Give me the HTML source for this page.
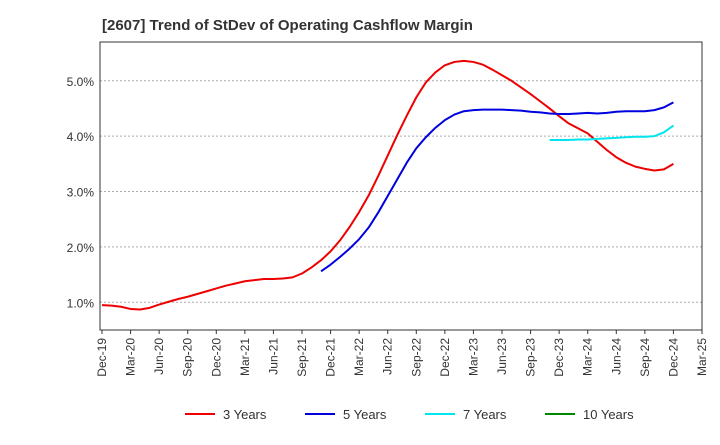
<!DOCTYPE html>
<html><head><meta charset="utf-8"><style>
body{margin:0;background:#fff;font-family:"Liberation Sans",sans-serif;}
</style></head><body>
<svg id="c" width="720" height="440" xmlns="http://www.w3.org/2000/svg" font-family="Liberation Sans, sans-serif">
<text x="102" y="30" font-size="15" font-weight="bold" fill="#333">[2607]  Trend of StDev of Operating Cashflow Margin</text>
</svg>
<script>
const xLabels=["Dec-19","Mar-20","Jun-20","Sep-20","Dec-20","Mar-21","Jun-21","Sep-21","Dec-21","Mar-22","Jun-22","Sep-22","Dec-22","Mar-23","Jun-23","Sep-23","Dec-23","Mar-24","Jun-24","Sep-24","Dec-24","Mar-25"];
const yTicks=[1.0,2.0,3.0,4.0,5.0];
const s3Start=0;
const s3=[.95,.94,.92,.88,.87,.90,.96,1.01,1.06,1.10,1.15,1.20,1.25,1.30,1.34,1.38,1.40,1.42,1.42,1.43,1.45,1.52,1.63,1.76,1.92,2.12,2.36,2.63,2.93,3.28,3.65,4.02,4.37,4.70,4.97,5.15,5.28,5.34,5.36,5.34,5.29,5.20,5.10,5.00,4.88,4.76,4.63,4.50,4.36,4.23,4.14,4.05,3.90,3.75,3.62,3.52,3.45,3.41,3.38,3.40,3.50];
const s5Start=23;
const s5=[1.56,1.68,1.82,1.97,2.14,2.35,2.62,2.92,3.22,3.52,3.78,3.98,4.15,4.29,4.39,4.45,4.47,4.48,4.48,4.48,4.47,4.46,4.44,4.43,4.41,4.40,4.40,4.41,4.42,4.41,4.42,4.44,4.45,4.45,4.45,4.47,4.52,4.61];
const s7Start=47;
const s7=[3.93,3.93,3.93,3.94,3.94,3.95,3.96,3.97,3.98,3.99,3.99,4.00,4.07,4.19];
const s10=[];
const NS="http://www.w3.org/2000/svg";
const svg=document.getElementById('c');
const L=100,R=702,T=42,B=330;
const yMin=0.5,yMax=5.7;
const x=m=>L+2+m*(600/63);
const y=v=>B-(v-yMin)/(yMax-yMin)*(B-T);
function el(t,a){const e=document.createElementNS(NS,t);for(const k in a)e.setAttribute(k,a[k]);svg.appendChild(e);return e;}
yTicks.forEach(v=>{
 const g=el('line',{x1:L,x2:R,y1:y(v),y2:y(v),stroke:'#aaa','stroke-dasharray':'2,2'});
 
 
 const t=el('text',{x:L-6,y:y(v)+5,'text-anchor':'end','font-size':12,fill:'#333'});
 t.textContent=v.toFixed(1)+'%';
 
 
});
const fr=el('rect',{x:L,y:T,width:R-L,height:B-T,fill:'none',stroke:'#333'});


xLabels.forEach((s,i)=>{
 const xx=x(i*3);
 const tk=el('line',{x1:xx,x2:xx,y1:B,y2:B+4,stroke:'#333'});
 
 
 const t=el('text',{x:0,y:0,'text-anchor':'end','font-size':12,fill:'#333',transform:`translate(${xx+4},${B+8}) rotate(-90)`});
 t.textContent=s;
 
 
});
function series(data,start,color,name){
 if(!data.length)return;
 const p=el('polyline',{points:data.map((v,i)=>x(start+i)+','+y(v)).join(' '),fill:'none',stroke:color,'stroke-width':2,'stroke-linejoin':'round'});
 
 
}
series(s3,s3Start,'#e00','line-3-years');
series(s5,s5Start,'#0000e0','line-5-years');
series(s7,s7Start,'#00e5ee','line-7-years');
series(s10,0,'#080','line-10-years');
[['3 Years','#e00',185],['5 Years','#0000e0',305],['7 Years','#00e5ee',425],['10 Years','#080',545]].forEach(([n,c,lx])=>{
 const l=el('line',{x1:lx,x2:lx+30,y1:414,y2:414,stroke:c,'stroke-width':2});
 
 
 const t=el('text',{x:lx+38,y:419,'font-size':13,fill:'#333'});
 t.textContent=n;
 
 
});
</script>
</body></html>
